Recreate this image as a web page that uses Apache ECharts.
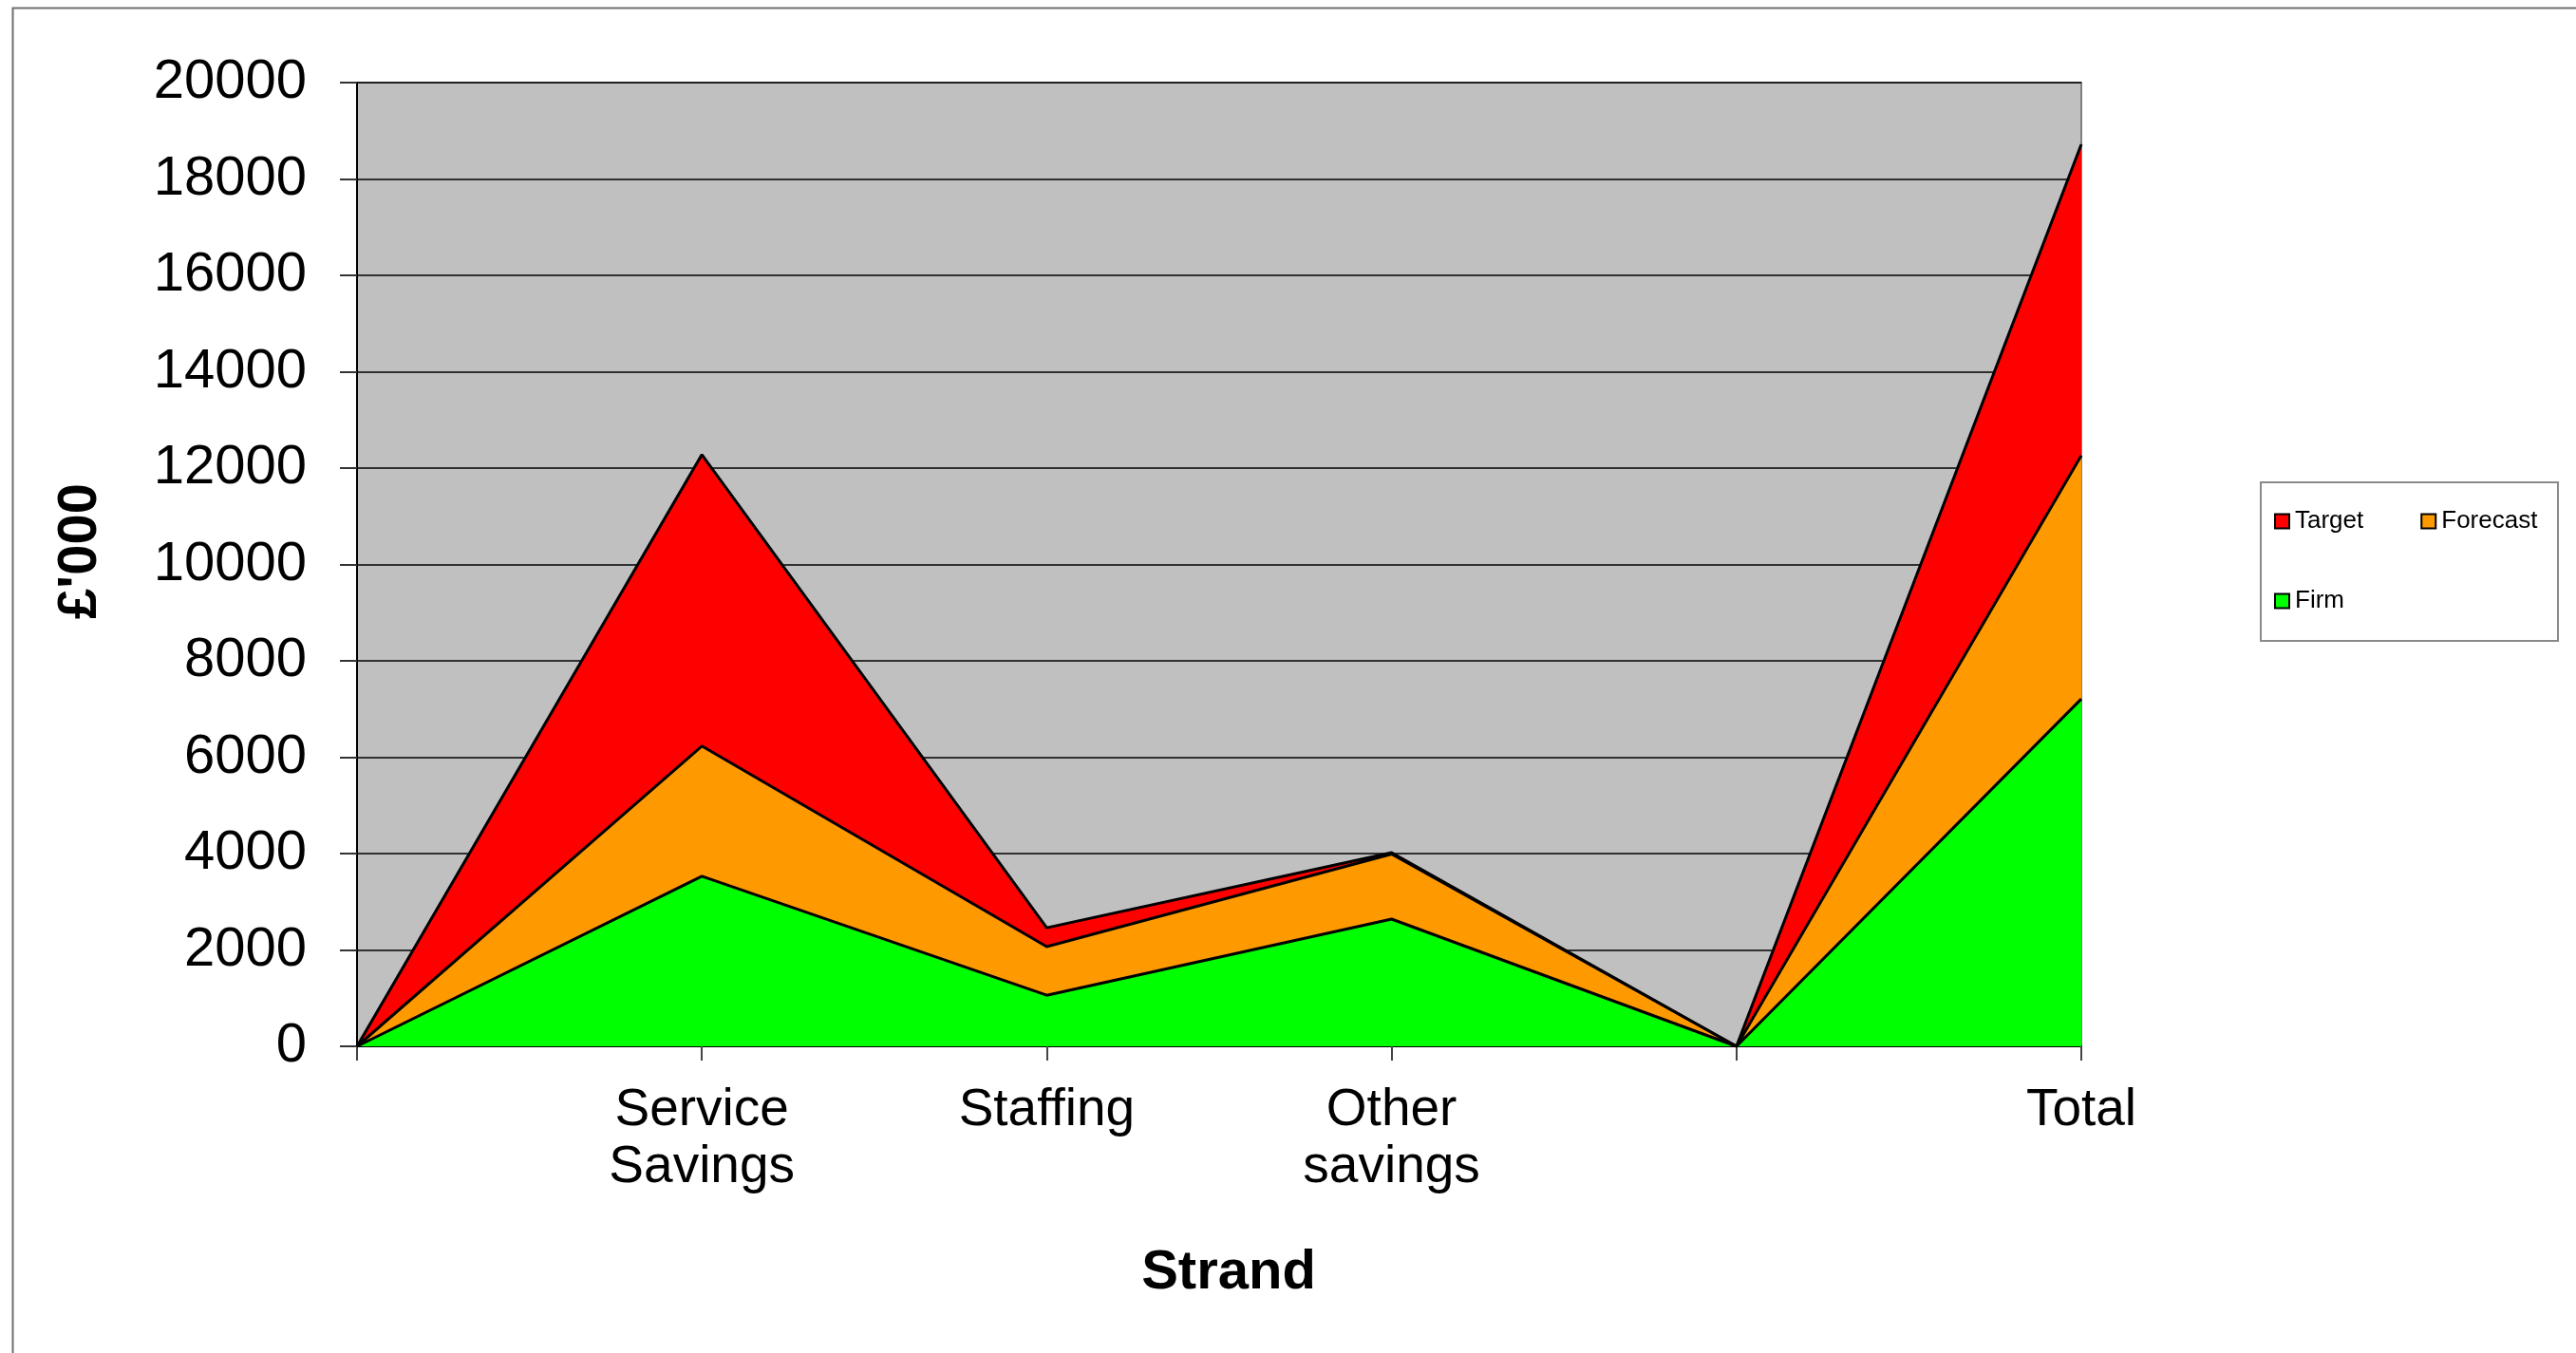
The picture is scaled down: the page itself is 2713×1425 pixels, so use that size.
<!DOCTYPE html>
<html>
<head>
<meta charset="utf-8">
<script src="https://cdn.jsdelivr.net/npm/echarts@6/dist/echarts.min.js"></script>
<style>
html,body{margin:0;padding:0;background:#fff;}
#chart{width:2713px;height:1425px;}
</style>
</head>
<body>
<div id="chart"></div>
<script>
const categories = ['', 'Service\nSavings', 'Staffing', 'Other\nsavings', '', 'Total'];
const firm = [0, 3530, 1060, 2640, 0, 7210];
const forecast = [0, 2700, 1010, 1350, 0, 5050];
const target = [0, 6050, 390, 30, 0, 6460];
const yTicks = { min: 0, max: 20000, interval: 2000 };
const legendTop = ['Target', 'Forecast'];
const legendBottom = ['Firm'];

const FONT = '"Liberation Sans", Arial, sans-serif';
const chart = echarts.init(document.getElementById('chart'));

function areaSeries(name, data, color) {
  return {
    name: name,
    type: 'line',
    stack: 'total',
    data: data,
    symbol: 'none',
    showSymbol: false,
    smooth: false,
    lineStyle: { color: '#000', width: 3 },
    itemStyle: { color: color },
    areaStyle: { color: color, opacity: 1 },
    emphasis: { disabled: true },
    animation: false
  };
}

const legendCommon = {
  orient: 'horizontal',
  icon: 'rect',
  itemWidth: 15,
  itemHeight: 15,
  itemGap: 60,
  padding: 0,
  selectedMode: false,
  itemStyle: { borderColor: '#000', borderWidth: 2 },
  textStyle: { fontFamily: FONT, fontSize: 26, color: '#000', padding: [0, 0, 0, 1] }
};

chart.setOption({
  backgroundColor: '#fff',
  animation: false,
  textStyle: { fontFamily: FONT },
  graphic: [
    { type: 'rect', left: 11, top: 6, z: -10, silent: true,
      shape: { width: 2720, height: 1440 },
      style: { fill: 'none', stroke: '#6e6e6e', lineWidth: 2 } },
    { type: 'rect', left: 2380, top: 507, z: 0, silent: true,
      shape: { width: 313, height: 167 },
      style: { fill: '#fff', stroke: '#8a8a8a', lineWidth: 2 } }
  ],
  legend: [
    Object.assign({}, legendCommon, { data: legendTop, left: 2395, top: 536 }),
    Object.assign({}, legendCommon, { data: legendBottom, left: 2395, top: 620 })
  ],
  grid: {
    left: 376, right: 521, top: 87, bottom: 323,
    show: true, backgroundColor: '#C0C0C0', borderColor: '#808080', borderWidth: 2
  },
  xAxis: {
    type: 'category',
    data: categories,
    boundaryGap: false,
    name: 'Strand',
    nameLocation: 'middle',
    nameGap: 210,
    nameTextStyle: { fontFamily: FONT, fontSize: 58, fontWeight: 'bold', color: '#000', padding: [0, 0, 0, 20] },
    axisLine: { show: true, lineStyle: { color: '#000', width: 2 } },
    axisTick: { show: true, alignWithLabel: true, interval: 0, length: 15, lineStyle: { color: '#444', width: 2 } },
    axisLabel: { interval: 0, margin: 38, fontFamily: FONT, fontSize: 55, lineHeight: 60, color: '#000' },
    splitLine: { show: false }
  },
  yAxis: {
    type: 'value',
    min: yTicks.min, max: yTicks.max, interval: yTicks.interval,
    name: "£'000",
    nameLocation: 'middle',
    nameRotate: 90,
    nameGap: 262,
    nameTextStyle: { fontFamily: FONT, fontSize: 58, fontWeight: 'bold', color: '#000', padding: [0, 0, 0, 28] },
    axisLine: { show: true, lineStyle: { color: '#000', width: 2 } },
    axisTick: { show: true, length: 18, lineStyle: { color: '#333', width: 2 } },
    axisLabel: { margin: 53, fontFamily: FONT, fontSize: 58, color: '#000', formatter: function (v) { return String(v); } },
    splitLine: { show: true, lineStyle: { color: '#000', width: 1.5 } }
  },
  series: [
    areaSeries('Firm', firm, '#00FF00'),
    areaSeries('Forecast', forecast, '#FF9900'),
    areaSeries('Target', target, '#FF0000')
  ]
});
</script>
</body>
</html>
